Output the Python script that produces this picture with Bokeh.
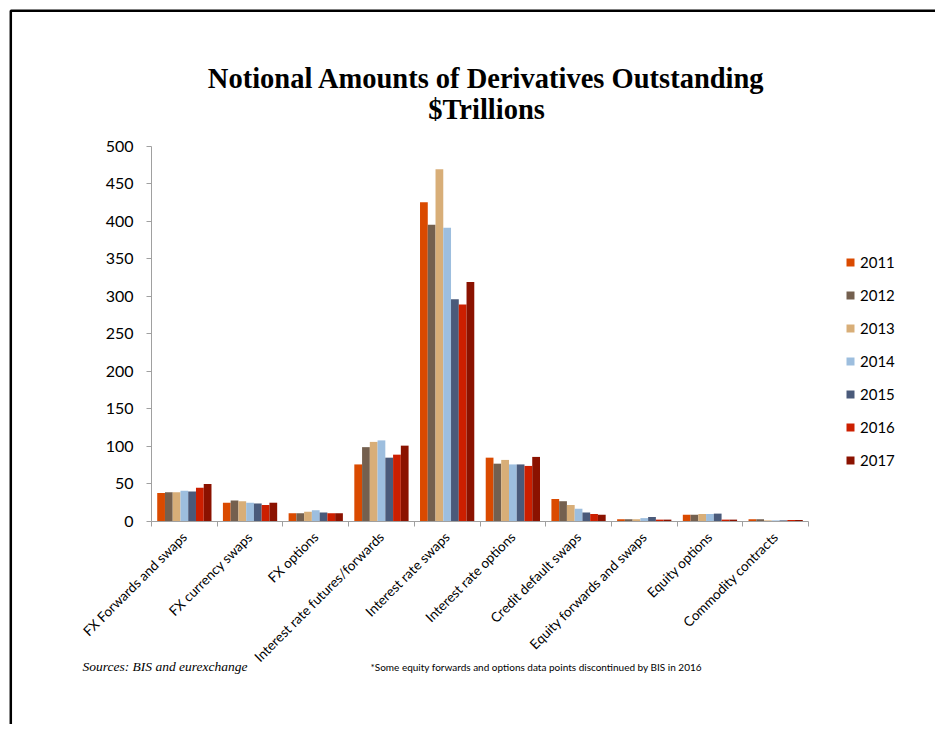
from bokeh.plotting import figure
from bokeh.models import (Range1d, LinearAxis, FixedTicker, Label, BoxAnnotation)
from bokeh.embed import file_html
from bokeh.resources import INLINE

categories = ["FX Forwards and swaps", "FX currency swaps", "FX options",
              "Interest rate futures/forwards", "Interest rate swaps",
              "Interest rate options", "Credit default swaps",
              "Equity forwards and swaps", "Equity options", "Commodity contracts"]
years = ["2011", "2012", "2013", "2014", "2015", "2016", "2017"]

v2011 = [38, 25, 11, 76, 425, 85, 30, 3, 9, 3]
v2012 = [39, 28, 11, 99, 395, 77, 27, 3, 9, 3]
v2013 = [39, 27, 13, 106, 469, 82, 22, 3, 10, 1.5]
v2014 = [41, 25, 15, 108, 391, 76, 17, 4.5, 10, 1.5]
v2015 = [40, 24, 12, 85, 296, 76, 12, 6, 10.5, 1.5]
v2016 = [45, 22, 11, 89, 289, 74, 10, 2.5, 2.5, 2]
v2017 = [50, 25, 11, 101, 319, 86, 9, 2.5, 2.5, 2]
series = [v2011, v2012, v2013, v2014, v2015, v2016, v2017]

colors = ["#DA4A00", "#74604F", "#D8AE78", "#9DBEDE", "#4A5A7A", "#CC1F00", "#8B1200"]

y_ticks = [0, 50, 100, 150, 200, 250, 300, 350, 400, 450, 500]

# canvas geometry (pixels)
W, H = 935, 724
X0, X1 = 151, 808      # pixel of category boundary 0 and 10
Y0, Y500 = 521, 145.5  # pixel of value 0 and 500
ncat = len(categories)
sxu = (X1 - X0) / ncat
syu = (Y0 - Y500) / 500.0

xr = Range1d(-X0 / sxu, (W - X0) / sxu)
yr = Range1d(-(H - Y0) / syu, 500 + Y500 / syu)

p = figure(width=W, height=H, output_backend="svg", toolbar_location=None,
           x_range=xr, y_range=yr, min_border=0,
           x_axis_type=None, y_axis_type=None)
p.outline_line_color = None
p.grid.visible = False
p.background_fill_color = "white"
p.border_fill_color = "white"

bw = 0.118
for j, (yr_lbl, vals, c) in enumerate(zip(years, series, colors)):
    xs = [i + 0.5 + (j - 3) * bw for i in range(ncat)]
    p.vbar(x=xs, top=vals, width=bw, bottom=0, fill_color=c, line_color=None,
           legend_label=yr_lbl)

axis_col = "#A0A0A0"
# y axis
ya = LinearAxis(ticker=FixedTicker(ticks=y_ticks), fixed_location=0, bounds=(0, 500))
ya.axis_line_color = axis_col
ya.major_tick_line_color = axis_col
ya.major_tick_in = 0
ya.major_tick_out = 5
ya.minor_tick_line_color = None
ya.major_label_text_font = "Lato"
ya.major_label_text_font_size = "16px"
ya.major_label_text_color = "black"
ya.major_label_standoff = 13
p.add_layout(ya, "left")

# x axis: labels at category centers, minor ticks at boundaries
centers = [i + 0.5 for i in range(ncat)]
bounds = list(range(ncat + 1))
xa = LinearAxis(ticker=FixedTicker(ticks=centers, minor_ticks=bounds),
                fixed_location=0, bounds=(0, ncat))
xa.major_label_overrides = {c: n for c, n in zip(centers, categories)}
xa.axis_line_color = axis_col
xa.major_tick_line_color = None
xa.major_tick_in = 0
xa.major_tick_out = 0
xa.minor_tick_line_color = axis_col
xa.minor_tick_in = 0
xa.minor_tick_out = 5
xa.major_label_orientation = 0.785398
xa.major_label_text_font = "Lato"
xa.major_label_text_font_size = "13.5px"
xa.major_label_text_color = "black"
xa.major_label_standoff = 8
p.add_layout(xa, "below")

# legend
lg = p.legend[0]
lg.location = (845, H - 470)
lg.orientation = "vertical"
lg.glyph_width = 10
lg.glyph_height = 10
lg.label_standoff = 5
lg.label_text_font = "Lato"
lg.label_text_font_size = "15px"
lg.label_text_color = "black"
lg.label_height = 20
lg.spacing = 13
lg.padding = 0
lg.margin = 0
lg.border_line_color = None
lg.background_fill_alpha = 0

def sy(py):
    return H - py

p.add_layout(Label(x=486, y=sy(78), x_units="screen", y_units="screen",
                   text="Notional Amounts of Derivatives Outstanding",
                   text_font="Liberation Serif", text_font_style="bold",
                   text_font_size="28.5px", text_color="black",
                   text_align="center", text_baseline="middle"))
p.add_layout(Label(x=486, y=sy(109), x_units="screen", y_units="screen",
                   text="$Trillions",
                   text_font="Liberation Serif", text_font_style="bold",
                   text_font_size="28.5px", text_color="black",
                   text_align="center", text_baseline="middle"))
p.add_layout(Label(x=82, y=sy(666), x_units="screen", y_units="screen",
                   text="Sources: BIS and eurexchange",
                   text_font="Liberation Serif", text_font_style="italic",
                   text_font_size="13.5px", text_color="black",
                   text_align="left", text_baseline="middle"))
p.add_layout(Label(x=370, y=sy(666), x_units="screen", y_units="screen",
                   text="*Some equity forwards and options data points discontinued by BIS in 2016",
                   text_font="Lato", text_font_size="10px", text_color="black",
                   text_align="left", text_baseline="middle"))

# outer frame lines (left and top)
p.add_layout(BoxAnnotation(left=10.3, right=3000, top=sy(10.3), bottom=-200,
                           left_units="screen", right_units="screen",
                           top_units="screen", bottom_units="screen",
                           fill_alpha=0, line_color="black", line_alpha=1,
                           line_width=2.5))

open("out.html", "w").write(file_html(p, INLINE))
